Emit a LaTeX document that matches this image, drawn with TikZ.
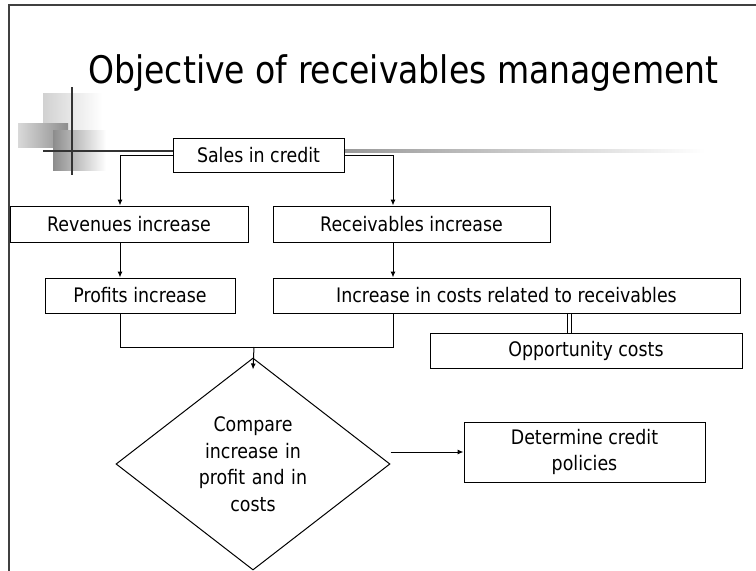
\documentclass[tikz,border=0pt]{standalone}
\usepackage{fontspec}
\setmainfont{DejaVu Sans}[FakeStretch=0.87]
\usetikzlibrary{shapes.geometric,arrows.meta,calc}
\tikzset{
  box/.style={draw=black, line width=1pt, fill=white, inner sep=0pt, align=center, font=\fontsize{20}{26.5}\selectfont},
  arr/.style={line width=1pt, -{Latex[length=6pt,width=5pt]}},
  conn/.style={line width=1pt},
}
\begin{document}
\begin{tikzpicture}[x=1pt,y=-1pt]
\useasboundingbox (0,0) rectangle (756,571);
% slide frame
\draw[line width=1.5pt, black!75] (9,571) -- (9,5) -- (756,5);
% decoration
\shade[left color=black!18, right color=white] (43,93) rectangle (102,132);
\shade[left color=black!15, right color=black!45] (18,123) rectangle (68,147);
\shade[left color=black!45, right color=white] (53,130) rectangle (106,170);
\draw[line width=2pt, black!80] (72,87) -- (72,175);
\draw[line width=2pt, black!80] (43,151) -- (175,151);
\shade[left color=black!40, right color=white] (344,149.5) rectangle (705,152);
% title
\node[anchor=base, font=\fontsize{38}{44}\selectfont, inner sep=0pt] (title) at (403.5,83) {Objective of receivables management};
% helper coordinates
\coordinate (xl) at (120,0);
\coordinate (xr) at (393,0);
\coordinate (xm) at (254,0);
\coordinate (xo) at (569.5,0);
\coordinate (jn) at (0,347);
% nodes
\node[box, minimum width=171pt, minimum height=34pt] (sales) at (258.5,155) {Sales in credit};
\node[box, minimum width=238pt, minimum height=36pt] (rev) at (129,224) {Revenues increase};
\node[box, minimum width=277pt, minimum height=36pt] (rec) at (411.5,224) {Receivables increase};
\node[box, minimum width=190pt, minimum height=35pt] (prof) at (140,295.5) {Profits increase};
\node[box, minimum width=467pt, minimum height=35pt] (cost) at (506.5,295.5) {Increase in costs related to receivables};
\node[box, minimum width=312pt, minimum height=35pt] (opp) at (586,350.5) {Opportunity costs};
\node[box, minimum width=241pt, minimum height=60pt] (det) at (584.5,452) {Determine credit\\policies};
\node[box, diamond, aspect=1.29, minimum width=274pt, minimum height=212pt, text width=110pt] (dia) at (253,464) {Compare\\increase in\\profit and in\\costs};
% connectors
\draw[arr] (sales.west) -| (xl |- rev.north);
\draw[arr] (sales.east) -| (xr |- rec.north);
\draw[arr] (xl |- rev.south) -- (xl |- prof.north);
\draw[arr] (xr |- rec.south) -- (xr |- cost.north);
\draw[conn] (xl |- prof.south) -- (xl |- jn) -- (xr |- jn) -- (xr |- cost.south);
\draw[arr] (xm |- jn) -- ($(dia.north)+(0,12)$);
\draw[line width=0.9pt, double, double distance=3.5pt] (xo |- cost.south) -- (xo |- opp.north);
\draw[arr] (dia.east |- det.west) -- (det.west);
\end{tikzpicture}
\end{document}
